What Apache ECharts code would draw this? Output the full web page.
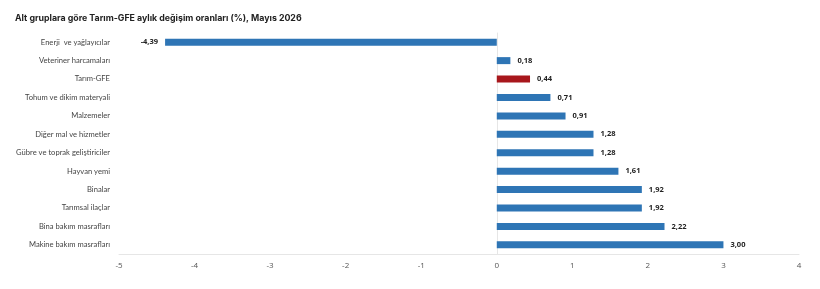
<!DOCTYPE html>
<html>
<head>
<meta charset="utf-8">
<script src="https://cdn.jsdelivr.net/npm/echarts@6/dist/echarts.min.js"></script>
<style>
  html, body { margin: 0; padding: 0; background: #fff; }
  #chart { width: 820px; height: 289px; }
</style>
</head>
<body>
<div id="chart"></div>
<script>
const categories = [
  "Enerji  ve yağlayıcılar",
  "Veteriner harcamaları",
  "Tarım-GFE",
  "Tohum ve dikim materyali",
  "Malzemeler",
  "Diğer mal ve hizmetler",
  "Gübre ve toprak geliştiriciler",
  "Hayvan yemi",
  "Binalar",
  "Tarımsal ilaçlar",
  "Bina bakım masrafları",
  "Makine bakım masrafları"
]
const values = [-4.39, 0.18, 0.44, 0.71, 0.91, 1.28, 1.28, 1.61, 1.92, 1.92, 2.22, 3.00]
const highlight = "Tarım-GFE"
const xTicks = [-5, -4, -3, -2, -1, 0, 1, 2, 3, 4]

const blue = "#2e75b5"
const red = "#a8171c"

const chart = echarts.init(document.getElementById("chart"))

const option = {
  animation: false,
  title: {
    text: "Alt gruplara göre Tarım-GFE aylık değişim oranları (%), Mayıs 2026",
    left: 10,
    top: 9,
    textStyle: {
      fontFamily: "Inter",
      fontSize: 8.8,
      fontWeight: "bold",
      color: "#222"
    }
  },
  grid: {
    left: 119,
    right: 21,
    top: 33,
    bottom: 35
  },
  xAxis: {
    type: "value",
    min: xTicks[0],
    max: xTicks[xTicks.length - 1],
    interval: 1,
    axisLine: { show: true, lineStyle: { color: "#e6e6e6" } },
    axisTick: { show: false },
    splitLine: { show: false },
    axisLabel: {
      color: "#555",
      fontFamily: "Open Sans",
      fontSize: 8,
      margin: 8
    }
  },
  yAxis: {
    type: "category",
    data: categories,
    inverse: true,
    axisLine: { show: true, lineStyle: { color: "#e6e6e6" } },
    axisTick: { show: false },
    axisLabel: {
      color: "#444",
      fontFamily: "Lato",
      fontSize: 7.6,
      margin: 9
    }
  },
  series: [
    {
      type: "bar",
      barWidth: 7,
      data: values.map((v, i) => ({
        value: v,
        itemStyle: { color: categories[i] === highlight ? red : blue },
        label: { position: v < 0 ? "left" : "right" }
      })),
      label: {
        show: true,
        distance: 7,
        color: "#222",
        fontFamily: "Open Sans",
        fontSize: 7.5,
        fontWeight: "bold",
        formatter: p => p.value.toFixed(2).replace(".", ",")
      }
    }
  ]
}

chart.setOption(option)
</script>
</body>
</html>
